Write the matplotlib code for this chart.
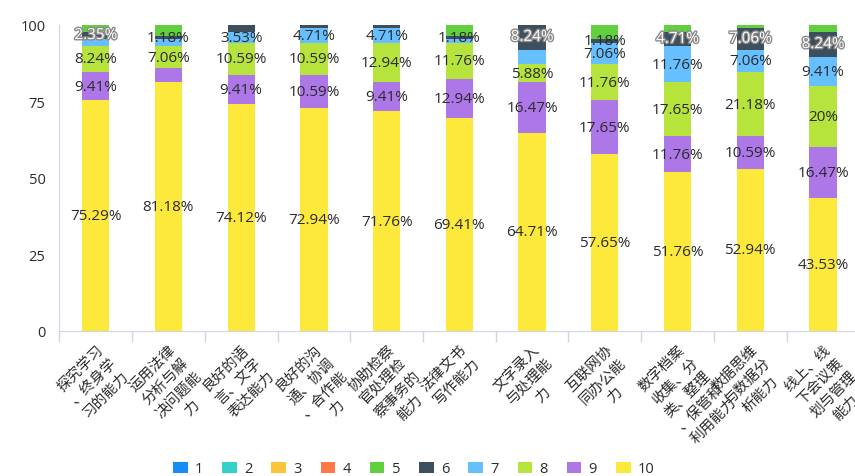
import matplotlib
matplotlib.use('Agg')
import matplotlib.pyplot as plt
import matplotlib.patheffects as pe
import numpy as np

plt.rcParams['font.family'] = ['Open Sans', 'Noto Sans CJK SC', 'DejaVu Sans']

# Categories (x axis)
categories = ['探究学习、终身学习的能力', '运用法律分析与解决问题能力', '良好的语言、文字表达能力',
              '良好的沟通、协调、合作能力', '协助检察官处理检察事务的能力', '法律文书写作能力',
              '文字录入与处理能力', '互联网协同办公能力', '数字档案收集、分类、整理、保管和利用能力',
              '数据思维与数据分析能力', '线上、线下会议策划与管理能力']

# Percent of answers per score
score_1 = [0, 0, 0, 0, 0, 0, 0, 0, 0, 0, 0]
score_2 = [0, 0, 0, 0, 0, 0, 0, 0, 0, 0, 0]
score_3 = [0, 0, 0, 0, 0, 0, 0, 0, 0, 0, 0]
score_4 = [0, 0, 0, 0, 0, 0, 0, 0, 0, 0, 0]
score_5 = [2.35, 3.53, 0, 0, 0, 3.53, 0, 4.71, 2.35, 1.18, 2.35]
score_6 = [2.35, 1.18, 2.35, 1.18, 1.18, 1.18, 8.24, 1.18, 4.71, 7.06, 8.24]
score_7 = [2.35, 2.35, 3.53, 4.71, 4.71, 1.18, 4.71, 7.06, 11.76, 7.06, 9.41]
score_8 = [8.24, 7.06, 10.59, 10.59, 12.94, 11.76, 5.88, 11.76, 17.65, 21.18, 20]
score_9 = [9.41, 4.71, 9.41, 10.59, 9.41, 12.94, 16.47, 17.65, 11.76, 10.59, 16.47]
score_10 = [75.29, 81.18, 74.12, 72.94, 71.76, 69.41, 64.71, 57.65, 51.76, 52.94, 43.53]

series_names = ['1', '2', '3', '4', '5', '6', '7', '8', '9', '10']
series = [score_1, score_2, score_3, score_4, score_5, score_6, score_7, score_8, score_9, score_10]

# labels the original chart hid because they overlapped (bar index, score)
hidden_labels = {(0, '7'), (0, '5'), (1, '9'), (1, '7'), (1, '5'), (2, '6'), (3, '6'), (4, '6'),
                 (5, '7'), (5, '5'), (6, '7'), (7, '5'), (8, '5'), (9, '5'), (10, '5')}

colors = ['#168ef7', '#36cfc9', '#fcc33b', '#ff7846', '#62cf3e',
          '#3d4e5c', '#66c0ff', '#b6e33c', '#ad77e8', '#fde93b']

axis_color = '#ccd6eb'
text_color = '#2b2b2b'


def wrap(s, n=4):
    return '\n'.join(s[i:i + n] for i in range(0, len(s), n))


fig = plt.figure(figsize=(8.55, 4.77), dpi=100)
ax = fig.add_axes([0.0694, 0.304, 0.9357, 0.642])

x = np.arange(len(categories))
width = 0.375

# stack from score 10 at the bottom up to score 1
bottom = np.zeros(len(categories))
for name, vals, col in reversed(list(zip(series_names, series, colors))):
    vals = np.array(vals, dtype=float)
    ax.bar(x, vals, width, bottom=bottom, color=col, linewidth=0, label=name, zorder=2)
    for i, v in enumerate(vals):
        if v <= 0 or (i, name) in hidden_labels:
            continue
        yc = bottom[i] + v / 2
        if name == '6' and v > 2:
            ax.text(x[i], yc, f'{v:g}%', ha='center', va='center', fontsize=11, color='white',
                    path_effects=[pe.withStroke(linewidth=2, foreground='#8a8a8a')], zorder=4)
        else:
            ax.text(x[i], yc, f'{v:g}%', ha='center', va='center', fontsize=11,
                    color=text_color, zorder=4)
    bottom += vals

ax.set_xlim(-0.5, len(categories) - 0.5)
ax.set_ylim(0, 100)
ax.set_yticks([0, 25, 50, 75, 100])
ax.tick_params(axis='y', length=0, pad=10, labelsize=10.5, labelcolor=text_color)

# category labels at bar centers, tick marks at category boundaries
ax.set_xticks(x)
ax.set_xticklabels([wrap(c) for c in categories], rotation=45, ha='right', va='top',
                   rotation_mode='anchor', multialignment='center', fontsize=10.5,
                   color=text_color, linespacing=1.4, family=['Noto Sans CJK SC', 'DejaVu Sans'])
ax.tick_params(axis='x', which='major', length=0, pad=8)
ax.set_xticks(np.arange(-0.5, len(categories)), minor=True)
ax.tick_params(axis='x', which='minor', length=8, color=axis_color, width=1)

for side in ['top', 'right']:
    ax.spines[side].set_visible(False)
ax.spines['left'].set_color(axis_color)
ax.spines['bottom'].set_color(axis_color)

# legend in order 1..10
handles, labels = ax.get_legend_handles_labels()
order = [labels.index(n) for n in series_names]
fig.legend([handles[k] for k in order], [labels[k] for k in order], loc='center',
           bbox_to_anchor=(0.484, 0.015), ncol=10, frameon=False, fontsize=10.5,
           handlelength=1.0, handleheight=0.8, handletextpad=0.5, columnspacing=1.3,
           labelcolor=text_color)

plt.savefig('out.png', dpi=100)
